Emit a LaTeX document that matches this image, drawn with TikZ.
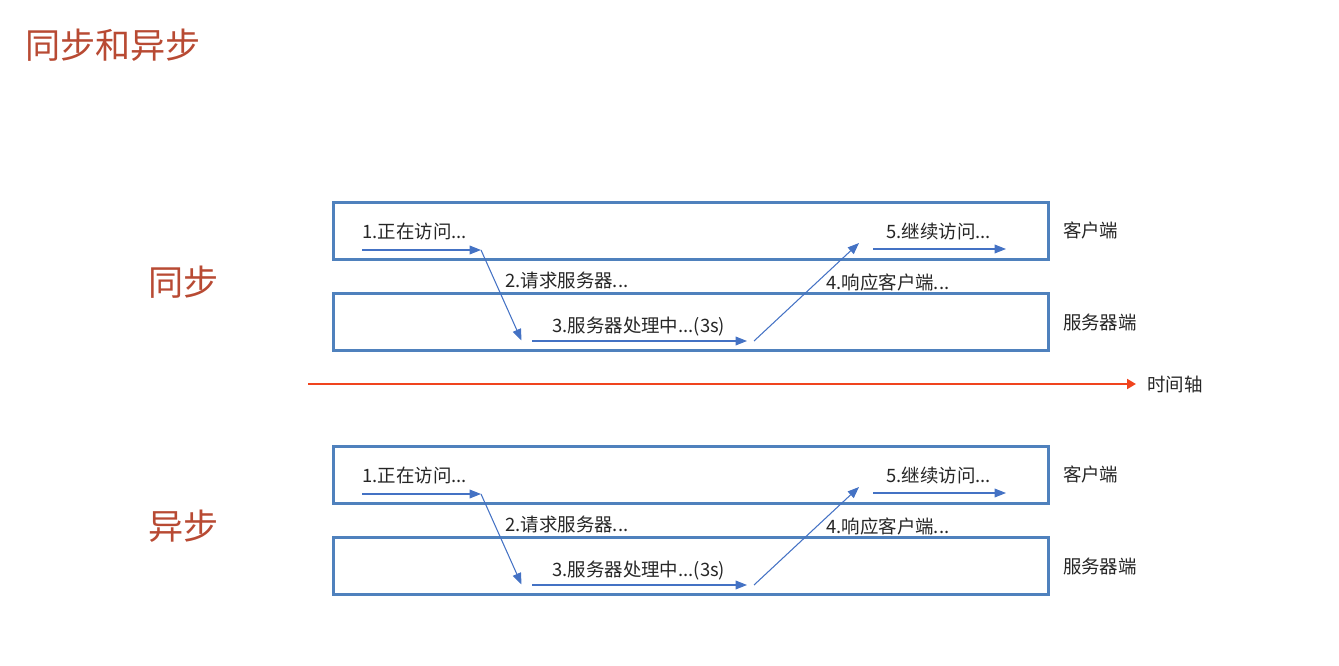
\documentclass[tikz,border=0pt]{standalone}
\usepackage{fontspec}
\setmainfont{Noto Sans CJK SC}
\usetikzlibrary{arrows.meta,positioning}
\definecolor{laneblue}{HTML}{4F81BD}
\definecolor{flowblue}{HTML}{4472C4}
\definecolor{axisred}{HTML}{F0441E}
\definecolor{headred}{HTML}{B84A33}
\definecolor{txtgray}{HTML}{262626}
\tikzset{
lane/.style = {draw=laneblue, line width=1.7pt, rectangle, minimum width=14.3cm, minimum height=1.15cm, inner sep=0pt},
flow/.style = {draw=flowblue, line width=0.6pt, -{Triangle[length=6.5pt,width=5pt]}},
axis/.style = {draw=axisred, line width=1.4pt, -{Triangle[length=5pt,width=5.5pt]}},
lbl/.style  = {text=txtgray, font=\fontsize{10.5}{12}\selectfont, inner sep=0pt, anchor=west},
head/.style = {text=headred, font=\fontsize{20}{24}\selectfont, inner sep=0pt, anchor=west},
tmp/.style  = {coordinate}
}

\begin{document}
\begin{tikzpicture}[x=0.02cm, y=-0.02cm]
\useasboundingbox (0,0) rectangle (1339,666);
\node [head] (title) at (25,45) {同步和异步};

% time axis between the two panels
\node [tmp] (tstart) at (308,384) {};
\node [tmp] (tend) at (1136,384) {};
\draw [axis] (tstart) -- (tend);
\node [lbl, right=0.22cm of tend] (tlbl) {时间轴};

\foreach \p/\dy/\mode in {s/0/同步, a/244/异步} {
  \node [head] (\p mode) at (148,282+\dy) {\mode};
  \node [lane] (\p client) at (690.8,230.8+\dy) {};
  \node [lane] (\p server) at (690.8,322+\dy) {};
  \node [lbl, right=0.26cm of \p client] (\p clientlbl) {客户端};
  \node [lbl, right=0.26cm of \p server] (\p serverlbl) {服务器端};

  \node [tmp] (\p 1a) at (362,250+\dy) {};
  \node [tmp] (\p 1b) at (481,250+\dy) {};
  \node [tmp] (\p 2b) at (521.5,340.5+\dy) {};
  \node [tmp] (\p 3a) at (532,341+\dy) {};
  \node [tmp] (\p 3b) at (747,341+\dy) {};
  \node [tmp] (\p 4a) at (754,341+\dy) {};
  \node [tmp] (\p 4b) at (859,243+\dy) {};
  \node [tmp] (\p 5a) at (873,249+\dy) {};
  \node [tmp] (\p 5b) at (1006,249+\dy) {};

  \draw [flow] (\p 1a) -- (\p 1b);
  \draw [flow] (\p 1b) -- (\p 2b);
  \draw [flow] (\p 3a) -- (\p 3b);
  \draw [flow] (\p 4a) -- (\p 4b);
  \draw [flow] (\p 5a) -- (\p 5b);

  \node [lbl] (\p l1) at (362,231.7+\dy) {1.正在访问...};
  \node [lbl] (\p l2) at (505,280+\dy) {2.请求服务器...};
  \node [lbl] (\p l3) at (552,327+\dy) {3.服务器处理中...(3s)};
  \node [lbl] (\p l4) at (826,282+\dy) {4.响应客户端...};
  \node [lbl] (\p l5) at (886,231.7+\dy) {5.继续访问...};
}
\end{tikzpicture}
\end{document}
